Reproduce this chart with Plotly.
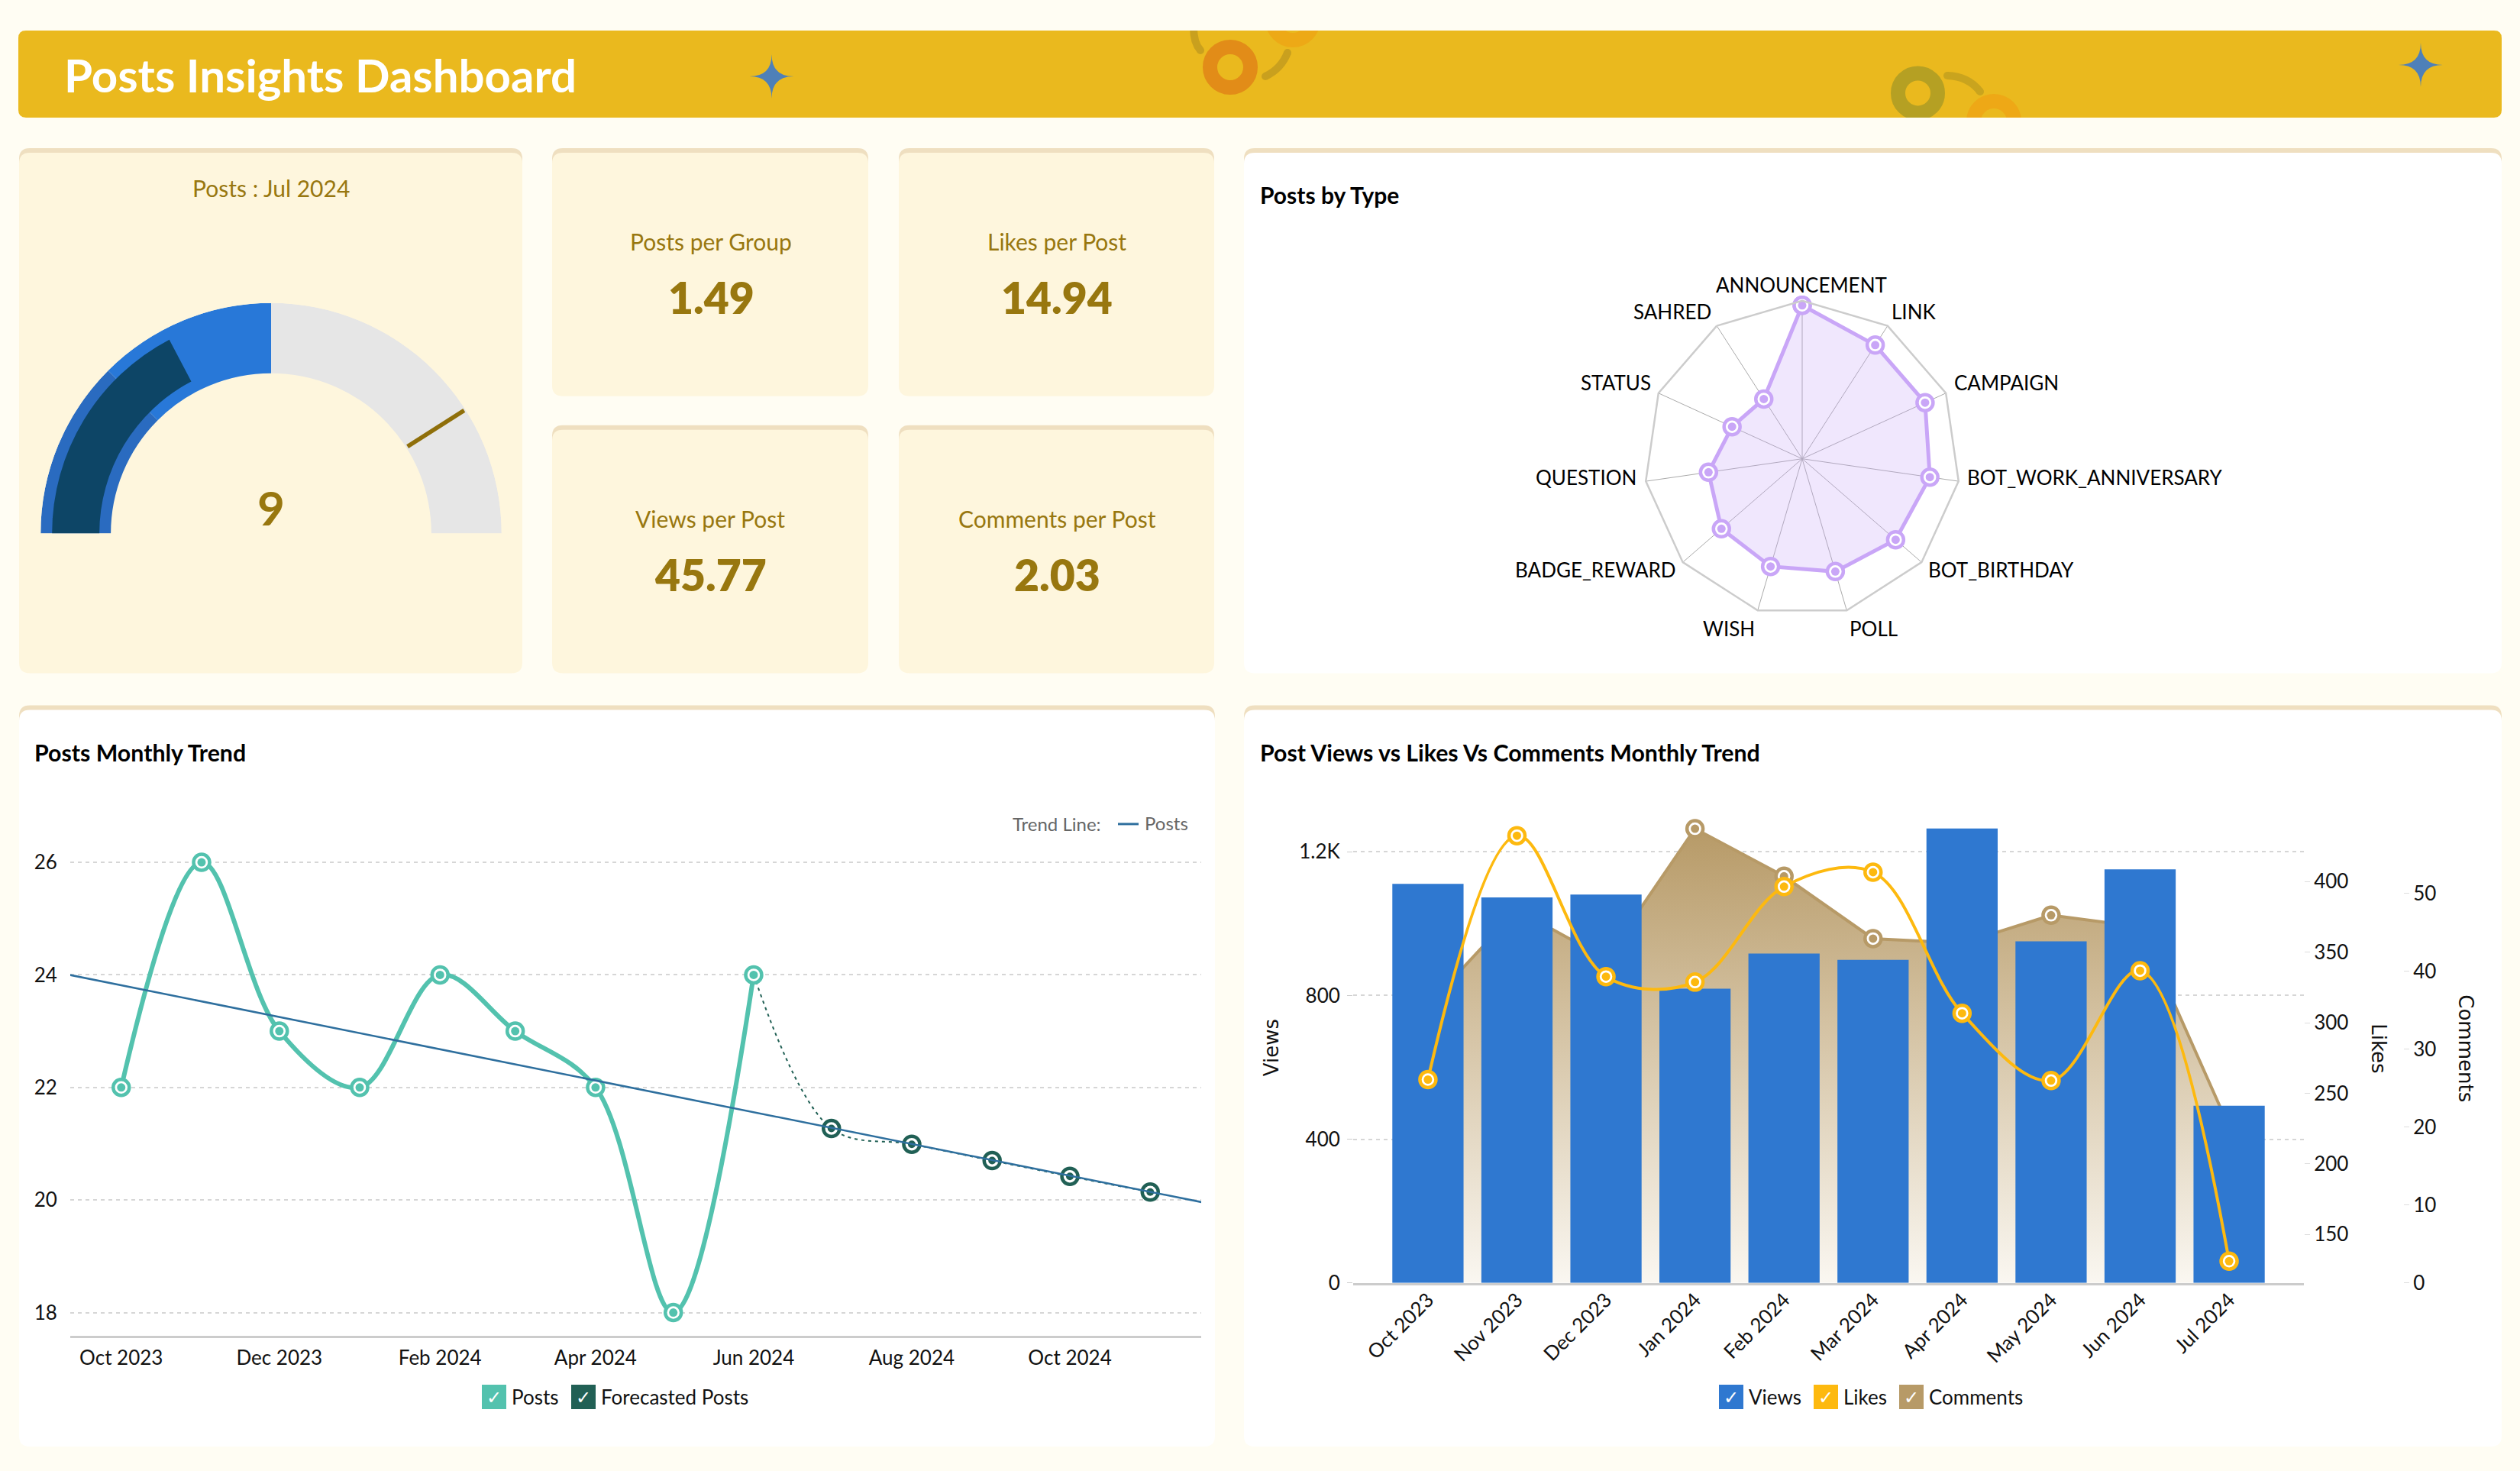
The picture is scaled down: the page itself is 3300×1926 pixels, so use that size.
import plotly.graph_objects as go

W, H = 3300, 1926
YS = 1.0073
PAGE = "#fffdf3"
HEADER = "#eab91e"
CREAM = "#fef6dd"
STRIP = "#efdfc0"
GOLD = "#98770f"
FONT = "Lato"

# ---------- data ----------
kpi_labels = ["Posts per Group", "Likes per Post", "Views per Post", "Comments per Post"]
kpi_values = ["1.49", "14.94", "45.77", "2.03"]

gauge_value = 9
gauge_max = 26
gauge_threshold = 21.3
gauge_mid = 6.5
gauge_half = 13

radar_types = ["ANNOUNCEMENT", "LINK", "CAMPAIGN", "BOT_WORK_ANNIVERSARY", "BOT_BIRTHDAY", "POLL",
               "WISH", "BADGE_REWARD", "QUESTION", "STATUS", "SAHRED"]
radar_values = [201, 177, 177, 169, 162, 154, 147, 140, 124, 101, 93]
radar_max = 207

post_months = ["2023-10-01", "2023-11-01", "2023-12-01", "2024-01-01", "2024-02-01", "2024-03-01",
               "2024-04-01", "2024-05-01", "2024-06-01"]
post_values = [22, 26, 23, 22, 24, 23, 22, 18, 24]
forecast_months = ["2024-07-01", "2024-08-01", "2024-09-01", "2024-10-01", "2024-11-01"]
forecast_values = [21.27, 20.99, 20.70, 20.42, 20.14]
trend_x = ["2023-09-11", "2024-11-21"]
trend_y = [24.0, 19.96]

months = ["Oct 2023", "Nov 2023", "Dec 2023", "Jan 2024", "Feb 2024", "Mar 2024", "Apr 2024",
          "May 2024", "Jun 2024", "Jul 2024"]
views = [1111, 1073, 1081, 819, 917, 899, 1265, 951, 1151, 493]
likes = [259.7, 432.6, 332.7, 328.8, 396.5, 406.7, 306.7, 259, 336.9, 131]
comments = [35.6, 47.9, 41.6, 58.3, 52.2, 44.2, 43.6, 47.2, 45.7, 20]
views_ticks = [0, 400, 800, 1200]
views_ticktext = ["0", "400", "800", "1.2K"]
likes_ticks = [150, 200, 250, 300, 350, 400]
comments_ticks = [0, 10, 20, 30, 40, 50]


# ---------- pixel helpers ----------
def px(x):
    return x / W


def py(y):
    return 1 - y * YS / H


def rrect(x0, y0, x1, y1, r, fill):
    p = (f"M{px(x0+r)},{py(y0)} L{px(x1-r)},{py(y0)} Q{px(x1)},{py(y0)} {px(x1)},{py(y0+r)} "
         f"L{px(x1)},{py(y1-r)} Q{px(x1)},{py(y1)} {px(x1-r)},{py(y1)} "
         f"L{px(x0+r)},{py(y1)} Q{px(x0)},{py(y1)} {px(x0)},{py(y1-r)} "
         f"L{px(x0)},{py(y0+r)} Q{px(x0)},{py(y0)} {px(x0+r)},{py(y0)} Z")
    return dict(type="path", path=p, xref="paper", yref="paper", fillcolor=fill, line=dict(width=0), layer="below")


def rect(x0, y0, x1, y1, fill):
    return dict(type="rect", xref="paper", yref="paper", x0=px(x0), x1=px(x1), y0=py(y0), y1=py(y1),
                fillcolor=fill, line=dict(width=0), layer="below")


def ring(cx, cy, r, width, color):
    return dict(type="circle", xref="paper", yref="paper", x0=px(cx-r), x1=px(cx+r), y0=py(cy-r), y1=py(cy+r),
                fillcolor="rgba(0,0,0,0)", line=dict(color=color, width=width), layer="below")


def dot(cx, cy, r, color):
    return dict(type="circle", xref="paper", yref="paper", x0=px(cx-r), x1=px(cx+r), y0=py(cy-r), y1=py(cy+r),
                fillcolor=color, line=dict(width=0), layer="below")


def arc(x0, y0, qx, qy, x1, y1, color, width=10):
    p = f"M{px(x0)},{py(y0)} Q{px(qx)},{py(qy)} {px(x1)},{py(y1)}"
    return [dict(type="path", path=p, xref="paper", yref="paper", line=dict(color=color, width=width), layer="below"),
            dot(x0, y0, width/2, color), dot(x1, y1, width/2, color)]


def star(cx, cy, r, color):
    k = 0.0
    p = (f"M{px(cx)},{py(cy-r)} Q{px(cx+k)},{py(cy-k)} {px(cx+r)},{py(cy)} "
         f"Q{px(cx+k)},{py(cy+k)} {px(cx)},{py(cy+r)} "
         f"Q{px(cx-k)},{py(cy+k)} {px(cx-r)},{py(cy)} "
         f"Q{px(cx-k)},{py(cy-k)} {px(cx)},{py(cy-r)} Z")
    return dict(type="path", path=p, xref="paper", yref="paper", fillcolor=color, line=dict(width=0), layer="below")


def label(x, y, text, size, color="#111111", weight=400, anchor="center", angle=0, family=FONT):
    return dict(x=px(x), y=py(y), xref="paper", yref="paper", text=text, showarrow=False, xanchor=anchor,
                yanchor="middle", textangle=angle, font=dict(family=family, size=size, color=color, weight=weight))


shapes, annotations = [], []

# header + decoration (clipped by page coloured strips)
shapes.append(rrect(24, 40, 3276, 154, 10, HEADER))
shapes.append(ring(1611, 88, 26.5, 19, "#e28c18"))
shapes.append(ring(1693, 26, 26.5, 19, "#eda916"))
shapes.append(ring(2511.5, 122, 26, 19, "#b5a023"))
shapes.append(ring(2611, 159, 26.5, 19, "#eea816"))
shapes += arc(1563, 36, 1563, 56, 1572, 66, "#c9a01e")
shapes += arc(1657, 100, 1678, 90, 1686, 69, "#c9a01e")
shapes += arc(2550, 99, 2578, 100, 2593, 120, "#c9a41e")
shapes.append(rect(0, 0, W, 40, PAGE))
shapes.append(rect(0, 154, W, 194, PAGE))
shapes.append(star(1010.5, 100, 29, "#4e80b8"))
shapes.append(star(3170, 85, 29, "#4e80b8"))


def card(x0, y0, x1, y1, fill):
    shapes.append(rrect(x0, y0, x1, y0 + 40, 14, STRIP))
    shapes.append(rrect(x0, y0 + 6, x1, y1, 14, fill))


card(25, 194, 684, 882, CREAM)
card(723, 194, 1137, 519, CREAM)
card(1177, 194, 1590, 519, CREAM)
card(723, 557, 1137, 882, CREAM)
card(1177, 557, 1590, 882, CREAM)
card(1629, 194, 3276, 882, "#ffffff")
card(25, 924, 1591, 1895, "#ffffff")
card(1629, 924, 3276, 1895, "#ffffff")

# header / cards text
annotations.append(label(82, 98, "Posts Insights Dashboard", 60, "#ffffff", 700, "left"))
annotations.append(label(355, 246, "Posts : Jul 2024", 30, GOLD))
annotations.append(label(355, 664, str(gauge_value), 62, GOLD, 700))
kpi_xy = [(931, 316, 389), (1384, 316, 389), (930, 679, 752), (1384, 679, 752)]
for (kx, ty, vy), t, v in zip(kpi_xy, kpi_labels, kpi_values):
    annotations.append(label(kx, ty, t, 30, GOLD))
    annotations.append(label(kx, vy, v, 57, GOLD, 800))
annotations.append(label(1648, 255, "Posts by Type", 30, "#000000", 700, "left"))
annotations.append(label(43, 986, "Posts Monthly Trend", 30.3, "#000000", 700, "left"))
annotations.append(label(1648, 986, "Post Views vs Likes Vs Comments Monthly Trend", 30.3, "#000000", 700, "left"))
annotations.append(label(1324, 1079, "Trend Line:", 24, "#666666", 400, "left"))
annotations.append(label(1497, 1078, "Posts", 24, "#666666", 400, "left"))
shapes.append(rect(1464, 1078, 1491, 1081, "#2e6f9e"))


def legend_item(x, text, color):
    shapes.append(rect(x, 1814, x + 32, 1846, color))
    annotations.append(label(x + 16, 1831, "✓", 24, "#ffffff", 400, family="DejaVu Sans"))
    annotations.append(label(x + 37, 1830, text, 26, "#111111", 400, "left"))


legend_item(631, "Posts", "#53c2ae")
legend_item(748, "Forecasted Posts", "#216055")
legend_item(2251, "Views", "#2f78d0")
legend_item(2375, "Likes", "#fdb90f")
legend_item(2487, "Comments", "#b79a67")

annotations.append(label(1665, 1373, "Views", 26, "#111111", 400, angle=-90, family="DejaVu Sans"))
annotations.append(label(3115, 1373, "Likes", 26, "#111111", 400, angle=90, family="DejaVu Sans"))
annotations.append(label(3229, 1373, "Comments", 26, "#111111", 400, angle=90, family="DejaVu Sans"))

radar_label_pos = [(2359, 373, "center"), (2475, 408, "left"), (2557, 501, "left"), (2574, 625, "left"),
                   (2523, 746, "left"), (2420, 823, "left"), (2300, 823, "right"), (2197, 746, "right"),
                   (2145, 625, "right"), (2164, 501, "right"), (2243, 408, "right")]
for (lx, ly, la), t in zip(radar_label_pos, radar_types):
    annotations.append(label(lx, ly, t, 26, "#000000", 400, la))

fig = go.Figure()


# ---------- gauge ----------
def to_deg(v):
    return v * 180 / gauge_max


def band(a, b, base, thick, color):
    fig.add_trace(go.Barpolar(theta=[to_deg((a + b) / 2)], width=[to_deg(b - a)], r=[thick], base=[base],
                              marker=dict(color=color, line=dict(width=0)), subplot="polar", showlegend=False))


band(0, gauge_mid, 210, 92, "#2a6bc0")
band(gauge_mid, gauge_half, 210, 92, "#2878d8")
band(gauge_half, gauge_max, 210, 92, "#e6e6e6")
band(0, gauge_value, 225, 62, "#0d4566")
fig.add_trace(go.Scatterpolar(r=[212, 300], theta=[to_deg(gauge_threshold)] * 2, mode="lines",
                              line=dict(color="#8f6f0a", width=5.5), subplot="polar", showlegend=False))

# ---------- radar ----------
RADAR = "#c9a6f7"
theta_closed = radar_types + radar_types[:1]
r_closed = radar_values + radar_values[:1]
MS, ML, MD = 21, 4.5, 11
fig.add_trace(go.Scatterpolar(r=r_closed, theta=theta_closed, mode="lines+markers", fill="toself",
                              fillcolor="rgba(201,166,247,0.27)", line=dict(color=RADAR, width=5),
                              marker=dict(size=MS, color="#ffffff", line=dict(color=RADAR, width=ML)),
                              subplot="polar2", showlegend=False))
fig.add_trace(go.Scatterpolar(r=radar_values, theta=radar_types, mode="markers",
                              marker=dict(size=MD, color=RADAR), subplot="polar2", showlegend=False))

# ---------- posts trend ----------
TEAL, DARK = "#53c2ae", "#216055"
fig.add_trace(go.Scatter(x=post_months[-1:] + forecast_months, y=post_values[-1:] + forecast_values, mode="lines",
                         line=dict(color=DARK, width=2, dash="4px,5px", shape="spline", smoothing=1.0),
                         showlegend=False, xaxis="x", yaxis="y"))
fig.add_trace(go.Scatter(x=post_months, y=post_values, mode="lines+markers",
                         line=dict(color=TEAL, width=6, shape="spline", smoothing=1.0),
                         marker=dict(size=MS, color="#ffffff", line=dict(color=TEAL, width=ML)),
                         showlegend=False, xaxis="x", yaxis="y"))
fig.add_trace(go.Scatter(x=post_months, y=post_values, mode="markers", marker=dict(size=MD, color=TEAL),
                         showlegend=False, xaxis="x", yaxis="y"))
fig.add_trace(go.Scatter(x=forecast_months, y=forecast_values, mode="markers",
                         marker=dict(size=MS, color="#ffffff", line=dict(color=DARK, width=ML)),
                         showlegend=False, xaxis="x", yaxis="y"))
fig.add_trace(go.Scatter(x=forecast_months, y=forecast_values, mode="markers", marker=dict(size=10, color=DARK),
                         showlegend=False, xaxis="x", yaxis="y"))
fig.add_trace(go.Scatter(x=trend_x, y=trend_y, mode="lines", line=dict(color="#2e6f9e", width=2.5), showlegend=False,
                         xaxis="x", yaxis="y"))

# ---------- views / likes / comments ----------
TAN, YEL, BLUE = "#b79a67", "#fdb90f", "#2f78d0"
fig.add_trace(go.Scatter(x=months, y=comments, mode="lines+markers", fill="tozeroy",
                         fillgradient=dict(type="vertical", colorscale=[[0, "#faf7f1"], [1, "#b79a67"]]),
                         line=dict(color=TAN, width=4),
                         marker=dict(size=MS, color="#ffffff", line=dict(color=TAN, width=ML)),
                         showlegend=False, xaxis="x2", yaxis="y2"))
fig.add_trace(go.Scatter(x=months, y=comments, mode="markers", marker=dict(size=MD, color=TAN),
                         showlegend=False, xaxis="x2", yaxis="y2"))
fig.add_trace(go.Bar(x=months, y=views, marker=dict(color=BLUE, line=dict(width=0)), width=0.8,
                     showlegend=False, xaxis="x2", yaxis="y3"))
fig.add_trace(go.Scatter(x=months, y=likes, mode="lines+markers",
                         line=dict(color=YEL, width=4, shape="spline", smoothing=1.0),
                         marker=dict(size=MS, color="#ffffff", line=dict(color=YEL, width=ML)),
                         showlegend=False, xaxis="x2", yaxis="y4"))
fig.add_trace(go.Scatter(x=months, y=likes, mode="markers", marker=dict(size=MD, color=YEL),
                         showlegend=False, xaxis="x2", yaxis="y4"))

tick_font = dict(family=FONT, size=26, color="#111111")
GRID = dict(gridcolor="#d6d6d6", gridwidth=2, griddash="5px,5px")

fig.update_layout(
    width=W, height=H, margin=dict(l=0, r=0, t=0, b=0, pad=0), autosize=False,
    paper_bgcolor=PAGE, plot_bgcolor="rgba(0,0,0,0)", font=dict(family=FONT),
    shapes=shapes, annotations=annotations, showlegend=False,
    polar=dict(domain=dict(x=[px(53), px(657)], y=[py(699), py(397)]), sector=[0, 180], bgcolor="rgba(0,0,0,0)",
               barmode="overlay", bargap=0,
               radialaxis=dict(visible=False, range=[0, 302]),
               angularaxis=dict(visible=False, rotation=180, direction="clockwise", thetaunit="degrees")),
    polar2=dict(domain=dict(x=[px(2153), px(2567)], y=[py(808), py(394)]), gridshape="linear", bgcolor="rgba(0,0,0,0)",
                radialaxis=dict(range=[0, radar_max], visible=True, showticklabels=False, ticks="", showline=False,
                                showgrid=False),
                angularaxis=dict(rotation=90, direction="clockwise", categoryorder="array", categoryarray=radar_types,
                                 showline=True, linecolor="#cccccc", linewidth=2.5, gridcolor="#aaaaaa", gridwidth=1,
                                 ticks="", showticklabels=False)),
    xaxis=dict(domain=[px(92), px(1573)], anchor="y", type="date", range=["2023-09-11 08:00", "2024-11-20 16:00"],
               tick0="2023-10-01", dtick="M2", tickformat="%b %Y", ticks="outside", ticklen=4,
               tickcolor="rgba(0,0,0,0)", tickfont=tick_font, showgrid=False, showline=True, linecolor="#cccccc",
               linewidth=2.5, zeroline=False),
    yaxis=dict(domain=[py(1750), py(1050)], anchor="x", range=[17.586, 27.08], tickvals=[18, 20, 22, 24, 26],
               ticks="outside", ticklen=11, tickcolor="rgba(0,0,0,0)", tickfont=tick_font, showline=False,
               zeroline=False, **GRID),
    xaxis2=dict(domain=[px(1772), px(3017)], anchor="y3", type="category", categoryorder="array", categoryarray=months,
                range=[-0.84, 9.84], tickangle=-45, ticks="", ticklabelstandoff=-6, tickfont=tick_font, showgrid=False,
                showline=True, linecolor="#cccccc", linewidth=2.5, zeroline=False),
    yaxis2=dict(domain=[py(1680.6), py(1050)], anchor="free", position=px(3147), side="right", range=[0, 61.8],
                tickvals=comments_ticks, ticks="outside", ticklen=7, tickcolor="#dddddd", tickfont=tick_font,
                showgrid=False, showline=False, zeroline=False),
    yaxis3=dict(domain=[py(1680.6), py(1050)], anchor="x2", overlaying="y2", side="left", range=[0, 1340],
                tickvals=views_ticks, ticktext=views_ticktext, ticks="outside", ticklen=7, tickcolor="#cccccc",
                ticklabelstandoff=4, tickfont=tick_font, showline=False, zeroline=False, **GRID),
    yaxis4=dict(domain=[py(1680.6), py(1050)], anchor="x2", overlaying="y2", side="right", range=[115.6, 456.8],
                tickvals=likes_ticks, ticks="outside", ticklen=7, tickcolor="#dddddd", tickfont=tick_font,
                showgrid=False, showline=False, zeroline=False),
)

fig.write_html("out.html", config=dict(displayModeBar=False),
               post_script="document.documentElement.style.overflow='hidden';document.body.style.overflow='hidden';"
                           "document.body.style.margin='0';document.body.style.background='%s';" % PAGE)
